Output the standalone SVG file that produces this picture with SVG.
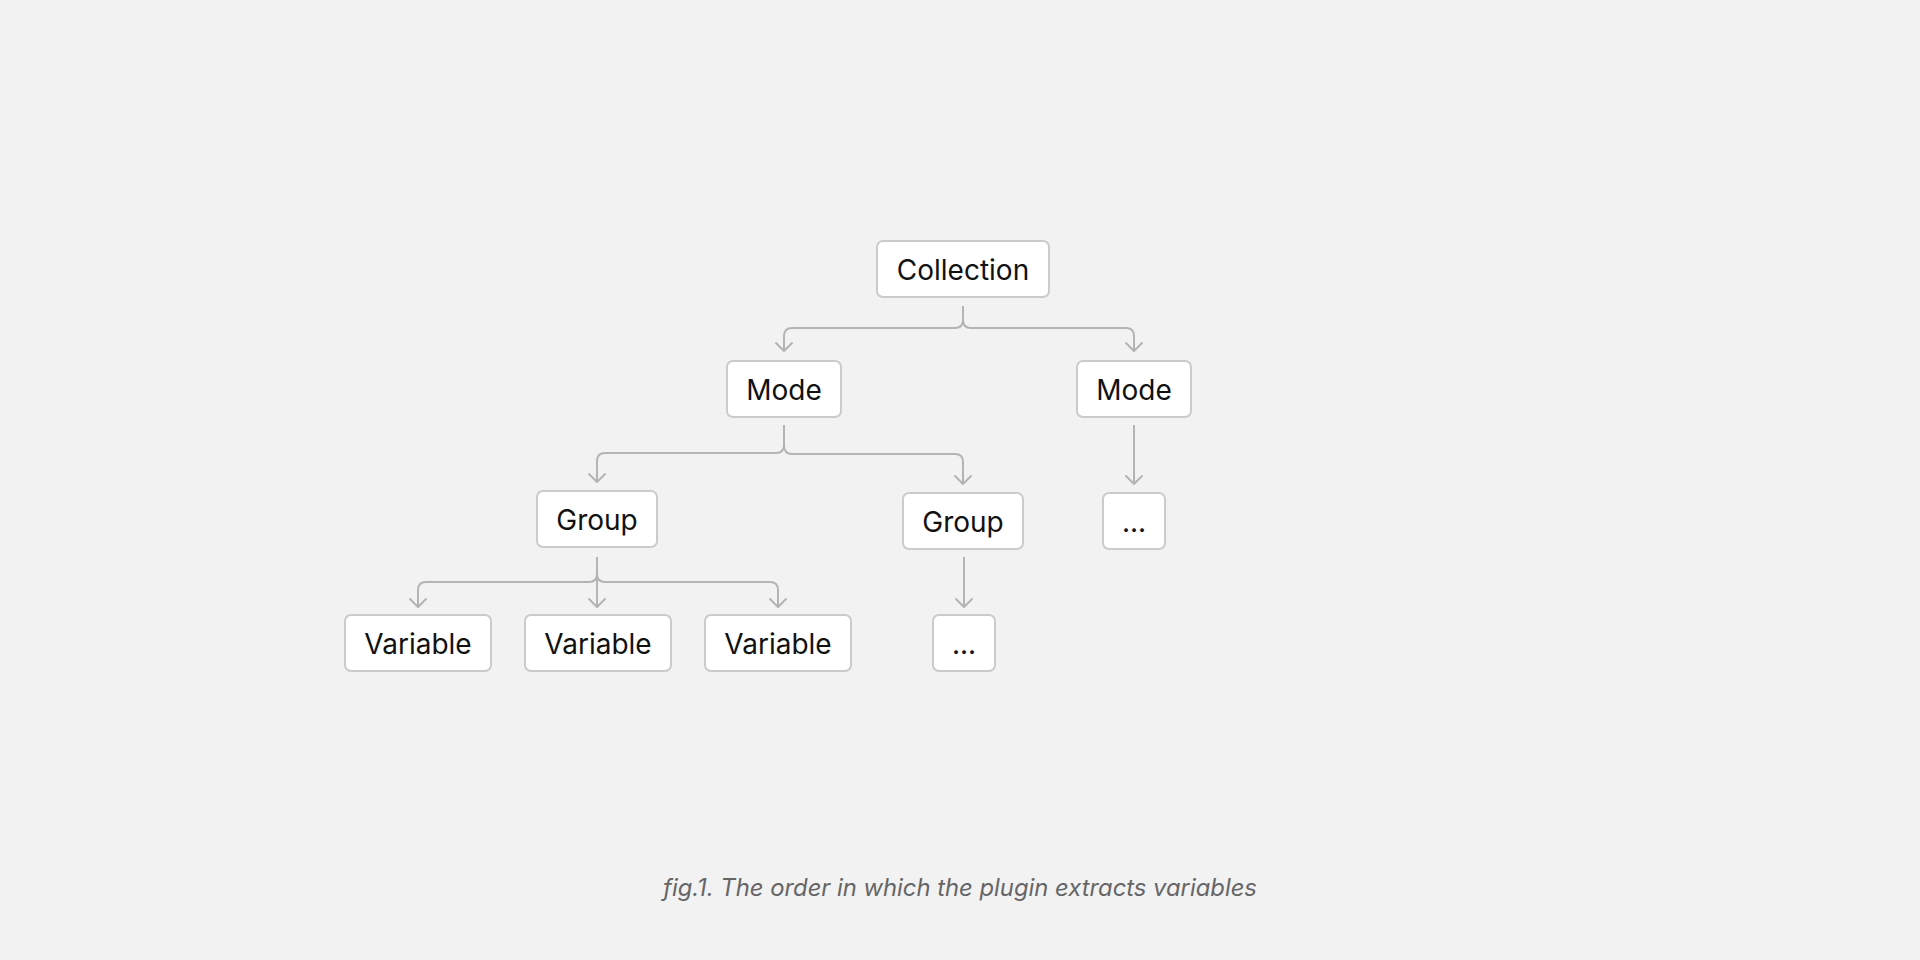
<svg xmlns="http://www.w3.org/2000/svg" width="1920" height="960" viewBox="0 0 1920 960">
<defs>
<marker id="arr" viewBox="-10 -10 20 20" markerWidth="20" markerHeight="20" refX="0" refY="0" orient="auto" markerUnits="userSpaceOnUse">
<polyline points="-8,-8 0,0 -8,8" fill="none" stroke="#b4b4b4" stroke-width="2" stroke-linecap="round" stroke-linejoin="round"/>
</marker>
<style>
.box{fill:#ffffff;stroke:#cbcbcb;stroke-width:2}
.lbl{font-family:Inter,"Liberation Sans",sans-serif;font-size:28px;fill:#111111;text-anchor:middle;dominant-baseline:central}
.con{fill:none;stroke:#b4b4b4;stroke-width:2}
.cap{font-family:Inter,"Liberation Sans",sans-serif;font-size:23.8px;font-style:italic;fill:#666666;text-anchor:middle}
</style>
</defs>
<rect width="1920" height="960" fill="#f2f2f2"/>
<g id="connectors">
<path class="con" d="M963 306 V320 Q963 328 955 328 H792 Q784 328 784 336 V351" marker-end="url(#arr)"/>
<path class="con" d="M963 320 Q963 328 971 328 H1126 Q1134 328 1134 336 V351" marker-end="url(#arr)"/>
<path class="con" d="M784 425 V445 Q784 453 776 453 H605 Q597 453 597 461 V482" marker-end="url(#arr)"/>
<path class="con" d="M784 445 Q784 454 792 454 H955 Q963 454 963 462 V484" marker-end="url(#arr)"/>
<path class="con" d="M1134 425 V484" marker-end="url(#arr)"/>
<path class="con" d="M597 557 V574 Q597 582 589 582 H426 Q418 582 418 590 V607" marker-end="url(#arr)"/>
<path class="con" d="M597 574 Q597 582 605 582 H770 Q778 582 778 590 V607" marker-end="url(#arr)"/>
<path class="con" d="M597 574 V607" marker-end="url(#arr)"/>
<path class="con" d="M964 557 V607" marker-end="url(#arr)"/>
</g>
<g id="collection"><rect class="box" x="877" y="241" width="172" height="56" rx="6"/><text class="lbl" x="963" y="270">Collection</text></g>
<g id="mode1"><rect class="box" x="727" y="361" width="114" height="56" rx="6"/><text class="lbl" x="784" y="390">Mode</text></g>
<g id="mode2"><rect class="box" x="1077" y="361" width="114" height="56" rx="6"/><text class="lbl" x="1134" y="390">Mode</text></g>
<g id="group1"><rect class="box" x="537" y="491" width="120" height="56" rx="6"/><text class="lbl" x="597" y="520">Group</text></g>
<g id="group2"><rect class="box" x="903" y="493" width="120" height="56" rx="6"/><text class="lbl" x="963" y="522">Group</text></g>
<g id="more2"><rect class="box" x="1103" y="493" width="62" height="56" rx="6"/><text class="lbl" x="1134" y="522">...</text></g>
<g id="var1"><rect class="box" x="345" y="615" width="146" height="56" rx="6"/><text class="lbl" x="418" y="644">Variable</text></g>
<g id="var2"><rect class="box" x="525" y="615" width="146" height="56" rx="6"/><text class="lbl" x="598" y="644">Variable</text></g>
<g id="var3"><rect class="box" x="705" y="615" width="146" height="56" rx="6"/><text class="lbl" x="778" y="644">Variable</text></g>
<g id="more1"><rect class="box" x="933" y="615" width="62" height="56" rx="6"/><text class="lbl" x="964" y="644">...</text></g>
<text class="cap" x="960" y="896">fig.1. The order in which the plugin extracts variables</text>
</svg>
